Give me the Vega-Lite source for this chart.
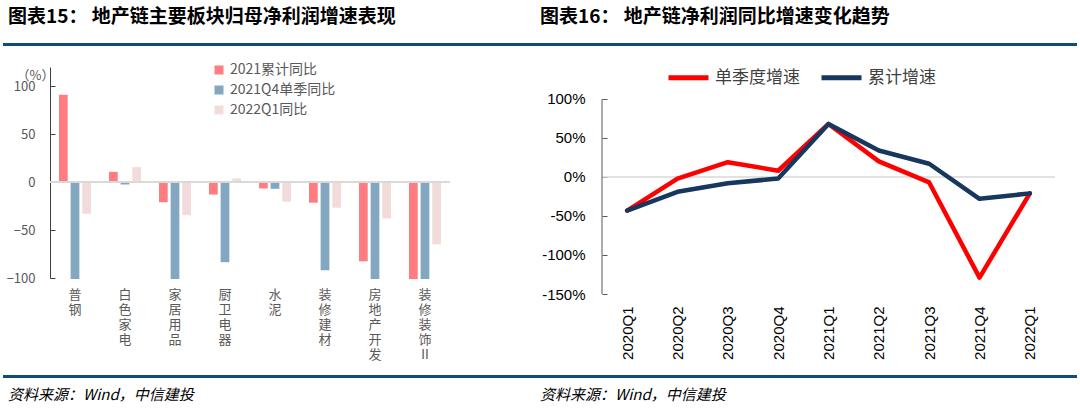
{
  "$schema": "https://vega.github.io/schema/vega-lite/v6.json",
  "background": "white",
  "padding": {"left": 3, "top": 8, "right": 0, "bottom": 0},
  "config": {
    "font": "Noto Sans CJK SC",
    "view": {"stroke": null}
  },
  "datasets": {
    "sectors": [
      {"cat": "普钢", "series": "2021累计同比", "value": 91},
      {"cat": "普钢", "series": "2021Q4单季同比", "value": -101},
      {"cat": "普钢", "series": "2022Q1同比", "value": -33},
      {"cat": "白色家电", "series": "2021累计同比", "value": 10.7},
      {"cat": "白色家电", "series": "2021Q4单季同比", "value": -2.5},
      {"cat": "白色家电", "series": "2022Q1同比", "value": 15.6},
      {"cat": "家居用品", "series": "2021累计同比", "value": -21},
      {"cat": "家居用品", "series": "2021Q4单季同比", "value": -101},
      {"cat": "家居用品", "series": "2022Q1同比", "value": -34.5},
      {"cat": "厨卫电器", "series": "2021累计同比", "value": -13},
      {"cat": "厨卫电器", "series": "2021Q4单季同比", "value": -83.5},
      {"cat": "厨卫电器", "series": "2022Q1同比", "value": 3.8},
      {"cat": "水泥", "series": "2021累计同比", "value": -6.6},
      {"cat": "水泥", "series": "2021Q4单季同比", "value": -7},
      {"cat": "水泥", "series": "2022Q1同比", "value": -20.5},
      {"cat": "装修建材", "series": "2021累计同比", "value": -21.5},
      {"cat": "装修建材", "series": "2021Q4单季同比", "value": -92},
      {"cat": "装修建材", "series": "2022Q1同比", "value": -26.7},
      {"cat": "房地产开发", "series": "2021累计同比", "value": -82.6},
      {"cat": "房地产开发", "series": "2021Q4单季同比", "value": -101},
      {"cat": "房地产开发", "series": "2022Q1同比", "value": -38},
      {"cat": "装修装饰Ⅱ", "series": "2021累计同比", "value": -101},
      {"cat": "装修装饰Ⅱ", "series": "2021Q4单季同比", "value": -101},
      {"cat": "装修装饰Ⅱ", "series": "2022Q1同比", "value": -65}
    ],
    "trend": [
      {"q": "2020Q1", "s": "单季度增速", "v": -43},
      {"q": "2020Q2", "s": "单季度增速", "v": -2},
      {"q": "2020Q3", "s": "单季度增速", "v": 19},
      {"q": "2020Q4", "s": "单季度增速", "v": 8},
      {"q": "2021Q1", "s": "单季度增速", "v": 68},
      {"q": "2021Q2", "s": "单季度增速", "v": 20},
      {"q": "2021Q3", "s": "单季度增速", "v": -7},
      {"q": "2021Q4", "s": "单季度增速", "v": -129},
      {"q": "2022Q1", "s": "单季度增速", "v": -21},
      {"q": "2020Q1", "s": "累计增速", "v": -43},
      {"q": "2020Q2", "s": "累计增速", "v": -19},
      {"q": "2020Q3", "s": "累计增速", "v": -8},
      {"q": "2020Q4", "s": "累计增速", "v": -2},
      {"q": "2021Q1", "s": "累计增速", "v": 68},
      {"q": "2021Q2", "s": "累计增速", "v": 34},
      {"q": "2021Q3", "s": "累计增速", "v": 17},
      {"q": "2021Q4", "s": "累计增速", "v": -28},
      {"q": "2022Q1", "s": "累计增速", "v": -21}
    ]
  },
  "spacing": 14,
  "vconcat": [
    {
      "spacing": 13,
      "vconcat": [
        {
          "spacing": 0,
          "hconcat": [
            {
              "width": 534, "height": 3,
              "data": {"values": []},
              "mark": "point",
              "view": {"fill": "#0E4C7E", "stroke": null},
              "title": {"text": "图表15：  地产链主要板块归母净利润增速表现", "anchor": "start", "fontSize": 19, "fontWeight": "bold", "color": "#000000", "offset": 16, "dx": 5}
            },
            {
              "width": 540, "height": 3,
              "data": {"values": []},
              "mark": "point",
              "view": {"fill": "#0E4C7E", "stroke": null},
              "title": {"text": "图表16：  地产链净利润同比增速变化趋势", "anchor": "start", "fontSize": 19, "fontWeight": "bold", "color": "#000000", "offset": 16, "dx": 3}
            }
          ]
        },
        {
          "spacing": 0,
          "resolve": {"scale": {"color": "independent", "x": "independent", "y": "independent"}, "legend": {"color": "independent"}},
          "hconcat": [
            {
              "width": 1, "height": 1,
              "data": {"values": []},
              "mark": "point"
            },
            {
              "width": 400, "height": 211,
              "data": {"name": "sectors"},
              "resolve": {"axis": {"y": "independent"}},
              "layer": [
                {
                  "mark": {"type": "bar"},
                  "encoding": {
                    "x": {"field": "cat", "type": "nominal", "sort": null,
                      "scale": {"paddingInner": 0.36, "paddingOuter": 0.18},
                      "axis": {"title": null, "domain": false, "ticks": false, "labelAngle": 0, "labelExpr": "split(datum.label, '')", "labelFontSize": 13, "labelLineHeight": 15, "labelColor": "#595959", "labelPadding": 10, "labelBaseline": "top"}},
                    "xOffset": {"field": "series", "sort": ["2021累计同比", "2021Q4单季同比", "2022Q1同比"], "scale": {"paddingInner": 0.25}},
                    "y": {"field": "value", "type": "quantitative",
                      "scale": {"domain": [-100, 120], "nice": false, "zero": false},
                      "axis": {"values": [-100, -50, 0, 50, 100], "grid": false, "labelOverlap": false, "title": "（%）", "titleAngle": 0, "titleX": -15, "titleY": 8, "titleAlign": "center", "titleBaseline": "middle", "titleFontSize": 13, "titleFontWeight": "normal", "titleColor": "#595959", "domainColor": "#404040", "tickColor": "#404040", "tickSize": -5, "labelPadding": 20, "labelFontSize": 13, "labelColor": "#595959", "minExtent": 46}},
                    "color": {"field": "series", "type": "nominal",
                      "scale": {"domain": ["2021累计同比", "2021Q4单季同比", "2022Q1同比"], "range": ["#FF7C80", "#84A7C1", "#F2DCDB"]},
                      "legend": {"orient": "none", "legendX": 158, "legendY": -8, "title": null, "symbolType": "square", "symbolSize": 81, "labelFontSize": 14, "labelColor": "#595959", "rowPadding": 6, "labelOffset": 4, "padding": 4, "direction": "vertical"}}
                  }
                },
                {
                  "data": {"values": [{"z": 0}]},
                  "mark": {"type": "rule", "color": "#D9D9D9", "strokeWidth": 2},
                  "encoding": {"y": {"field": "z", "type": "quantitative", "axis": null}}
                }
              ]
            },
            {
              "width": 90, "height": 1,
              "data": {"values": []},
              "mark": "point"
            },
            {
              "width": 453, "height": 227,
              "data": {"name": "trend"},
              "resolve": {"axis": {"y": "independent", "x": "independent"}, "scale": {"x": "independent"}},
              "layer": [
                {
                  "data": {"values": [{"z": 0}]},
                  "mark": {"type": "rule", "color": "#D9D9D9", "strokeWidth": 1.5},
                  "encoding": {"y": {"field": "z", "type": "quantitative", "axis": null}}
                },
                {
                  "data": {"values": [{"lo": -150, "hi": 100}]},
                  "mark": {"type": "rule", "color": "#595959", "strokeWidth": 1},
                  "encoding": {
                    "x": {"datum": 0, "type": "quantitative", "scale": {"domain": [0, 1]}, "axis": null},
                    "y": {"field": "lo", "type": "quantitative", "axis": null},
                    "y2": {"field": "hi"}
                  }
                },
                {
                  "mark": {"type": "line", "strokeWidth": 4.5, "strokeJoin": "round", "strokeCap": "round"},
                  "encoding": {
                    "x": {"field": "q", "type": "ordinal", "sort": null,
                      "scale": {"type": "point", "padding": 0.5},
                      "axis": {"title": null, "domain": false, "ticks": false, "labelAngle": -90, "labelFontSize": 15, "labelFont": "Liberation Sans", "labelColor": "#000000", "labelPadding": 12}},
                    "y": {"field": "v", "type": "quantitative",
                      "scale": {"domain": [-150, 141], "nice": false, "zero": false},
                      "axis": {"values": [-150, -100, -50, 0, 50, 100], "labelOverlap": false, "labelExpr": "datum.value + '%'", "title": null, "grid": false, "domain": false, "tickColor": "#595959", "tickSize": -5, "labelPadding": 22, "labelFontSize": 15, "labelFont": "Liberation Sans", "labelColor": "#000000", "minExtent": 60}},
                    "color": {"field": "s", "type": "nominal",
                      "scale": {"domain": ["单季度增速", "累计增速"], "range": ["#FF0000", "#17375E"]},
                      "legend": {"orient": "none", "legendX": 74, "legendY": -2, "direction": "horizontal", "title": null, "symbolType": "M-2,0H2", "symbolSize": 400, "symbolStrokeWidth": 5, "labelFontSize": 17, "labelColor": "#404040", "labelOffset": 14, "columnPadding": 11, "padding": 0}}
                  }
                }
              ]
            }
          ]
        }
      ]
    },
    {
      "spacing": 0,
      "hconcat": [
        {
          "width": 534, "height": 3,
          "data": {"values": []},
          "mark": "point",
          "view": {"fill": "#0E4C7E", "stroke": null},
          "title": {"text": "资料来源：Wind，中信建投", "orient": "bottom", "anchor": "start", "fontSize": 15, "fontStyle": "italic", "fontWeight": "normal", "color": "#000000", "offset": 10, "dx": 5}
        },
        {
          "width": 540, "height": 3,
          "data": {"values": []},
          "mark": "point",
          "view": {"fill": "#0E4C7E", "stroke": null},
          "title": {"text": "资料来源：Wind，中信建投", "orient": "bottom", "anchor": "start", "fontSize": 15, "fontStyle": "italic", "fontWeight": "normal", "color": "#000000", "offset": 10, "dx": 3}
        }
      ]
    }
  ]
}
